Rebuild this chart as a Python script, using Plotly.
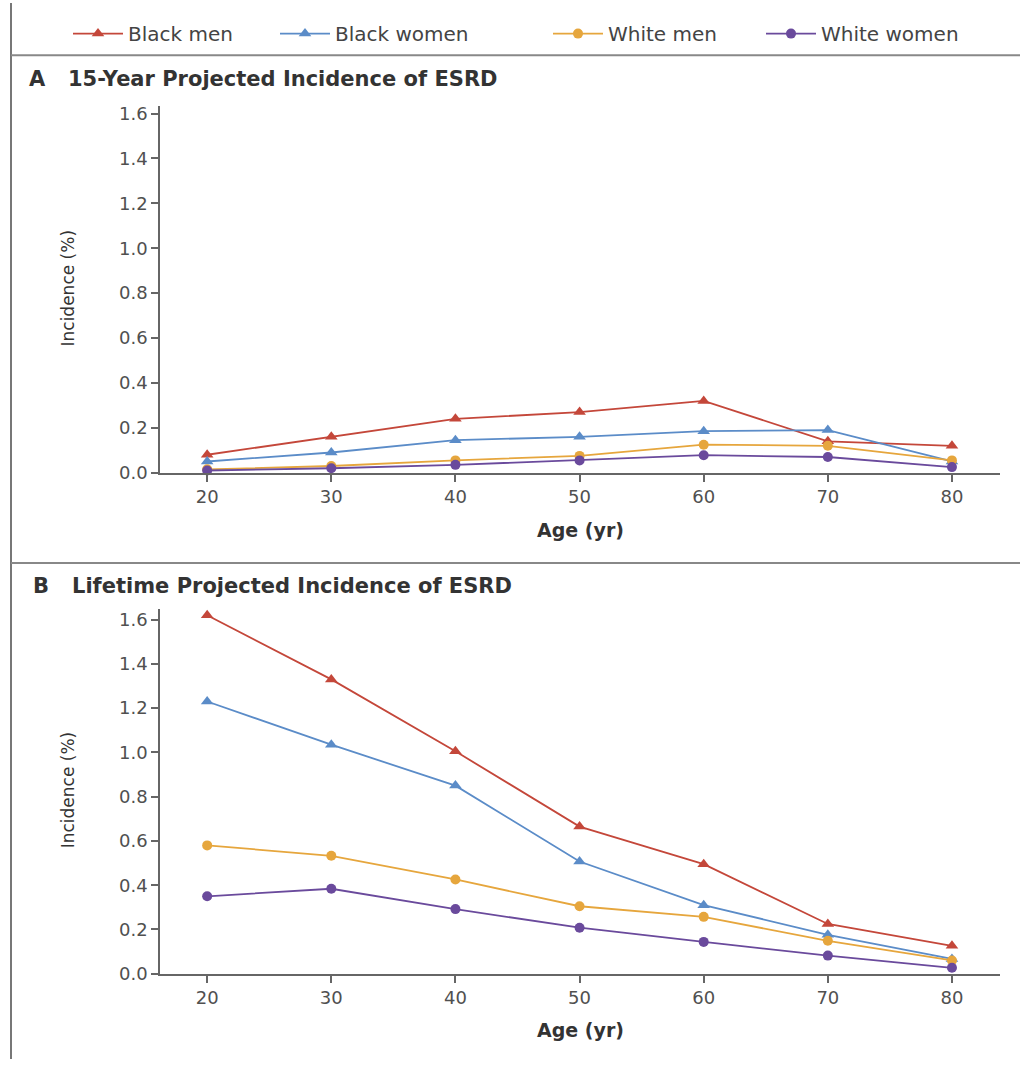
import plotly.graph_objects as go

ages = [20, 30, 40, 50, 60, 70, 80]
series_names = ["Black men", "Black women", "White men", "White women"]

# Panel A: 15-year projected incidence (%)
a_black_men = [0.08, 0.16, 0.24, 0.27, 0.32, 0.14, 0.12]
a_black_women = [0.05, 0.09, 0.145, 0.16, 0.185, 0.19, 0.05]
a_white_men = [0.015, 0.03, 0.055, 0.075, 0.125, 0.12, 0.055]
a_white_women = [0.01, 0.02, 0.035, 0.055, 0.078, 0.07, 0.025]

# Panel B: lifetime projected incidence (%)
b_black_men = [1.62, 1.33, 1.005, 0.665, 0.495, 0.225, 0.126]
b_black_women = [1.23, 1.035, 0.85, 0.507, 0.31, 0.176, 0.067]
b_white_men = [0.58, 0.533, 0.426, 0.305, 0.257, 0.149, 0.06]
b_white_women = [0.35, 0.384, 0.292, 0.208, 0.144, 0.082, 0.027]

y_ticks = [0.0, 0.2, 0.4, 0.6, 0.8, 1.0, 1.2, 1.4, 1.6]
y_tick_labels = ["0.0", "0.2", "0.4", "0.6", "0.8", "1.0", "1.2", "1.4", "1.6"]

title_a = "15-Year Projected Incidence of ESRD"
title_b = "Lifetime Projected Incidence of ESRD"
x_title = "Age (yr)"
y_title = "Incidence (%)"

colors = ["#C4473A", "#5B8CC8", "#E6A63D", "#6A4A9C"]
symbols = ["triangle-up", "triangle-up", "circle", "circle"]
sizes = [11, 11, 10, 10]

W, H = 1020, 1069
FONT = "DejaVu Sans, Open Sans, sans-serif"

def py(p):
    return 1 - p / H

def px(p):
    return p / W

fig = go.Figure()

panel_a = [a_black_men, a_black_women, a_white_men, a_white_women]
panel_b = [b_black_men, b_black_women, b_white_men, b_white_women]
legend_ids = ["legend", "legend2", "legend3", "legend4"]

for i, name in enumerate(series_names):
    fig.add_trace(go.Scatter(
        x=ages, y=panel_a[i], mode="lines+markers", name=name,
        line=dict(color=colors[i], width=1.8),
        marker=dict(symbol=symbols[i], size=sizes[i], color=colors[i]),
        xaxis="x", yaxis="y", cliponaxis=False,
        legend=legend_ids[i], showlegend=True,
    ))
for i, name in enumerate(series_names):
    fig.add_trace(go.Scatter(
        x=ages, y=panel_b[i], mode="lines+markers", name=name,
        line=dict(color=colors[i], width=1.8),
        marker=dict(symbol=symbols[i], size=sizes[i], color=colors[i]),
        xaxis="x2", yaxis="y2", cliponaxis=False, showlegend=False,
    ))

axis_common = dict(
    showgrid=False, zeroline=False, showline=True, linecolor="#666666", linewidth=1.6,
    ticks="outside", ticklen=7, tickcolor="#666666", tickwidth=1.5,
    tickfont=dict(family=FONT, size=18, color="#505050"),
)

xdom = [px(160), px(1000)]
xrange = [16.2, 83.87]

fig.update_layout(
    width=W, height=H, margin=dict(l=0, r=0, t=0, b=0),
    paper_bgcolor="white", plot_bgcolor="white",
    xaxis=dict(domain=xdom, range=xrange, tickvals=ages, anchor="y", **axis_common),
    yaxis=dict(domain=[py(475.5), py(104)], range=[0, 1.635], tickvals=y_ticks,
               ticktext=y_tick_labels, anchor="x", **axis_common),
    xaxis2=dict(domain=xdom, range=xrange, tickvals=ages, anchor="y2", **axis_common),
    yaxis2=dict(domain=[py(982.7), py(613)], range=[0, 1.65], tickvals=y_ticks,
                ticktext=y_tick_labels, anchor="x2", **axis_common),
)

legend_text_x = [128, 335, 608, 821]
for lid, tx in zip(legend_ids, legend_text_x):
    fig.update_layout(**{lid: dict(
        x=px(tx - 60), y=py(31), xanchor="left", yanchor="middle",
        orientation="h", bgcolor="rgba(0,0,0,0)",
        font=dict(family=FONT, size=20, color="#444444"),
        itemwidth=50,
    )})

ann = []
def add_text(text, x, y, size, bold=False, xanchor="left", angle=0, family=FONT, color="#333333"):
    ann.append(dict(text=("<b>%s</b>" % text) if bold else text, x=px(x), y=py(y),
                    xref="paper", yref="paper", xanchor=xanchor, yanchor="middle",
                    showarrow=False, textangle=angle,
                    font=dict(family=family, size=size, color=color)))

add_text("A", 27, 77, 21, bold=True)
add_text(title_a, 66, 77, 21, bold=True)
add_text("B", 31, 590, 21, bold=True)
add_text(title_b, 70, 590, 21, bold=True)
for yc in [533, 1040]:
    add_text(x_title, 580, yc, 19, bold=True, xanchor="center")
for yc in [289, 797]:
    add_text(y_title, 68, yc, 17, xanchor="center", angle=-90)
fig.update_layout(annotations=ann)

shapes = [
    dict(type="line", xref="paper", yref="paper", x0=px(11), x1=px(11), y0=0, y1=1,
         line=dict(color="#777777", width=2)),
    dict(type="line", xref="paper", yref="paper", x0=px(11), x1=1, y0=py(53), y1=py(53),
         line=dict(color="#888888", width=2)),
    dict(type="line", xref="paper", yref="paper", x0=px(11), x1=1, y0=py(567), y1=py(567),
         line=dict(color="#888888", width=2)),
]
fig.update_layout(shapes=shapes)

fig.write_html("out.html")
